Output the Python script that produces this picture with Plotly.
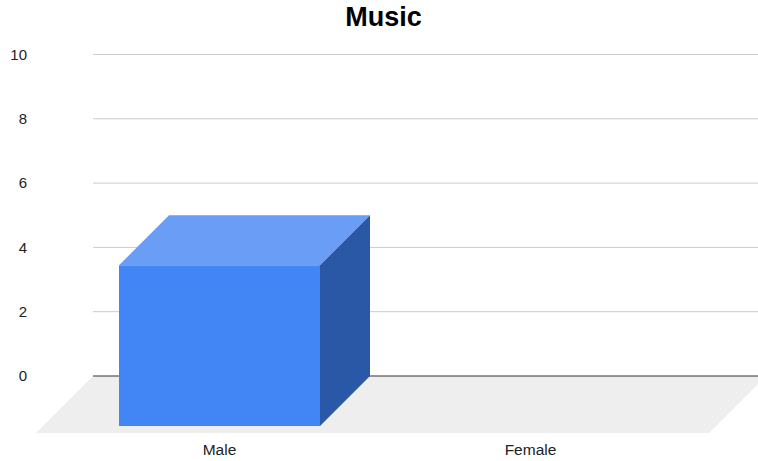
import plotly.graph_objects as go

# ---- data ----
categories = ["Male", "Female"]
values = [5, None]
y_ticks = [0, 2, 4, 6, 8, 10]
title_text = "Music"

# ---- 3D style geometry (category units on x, value units on y) ----
px_per_cat = 311.0
px_per_val = 32.15
bar_w = 201 / px_per_cat
bar_dx = 50 / px_per_cat
bar_dy = 50 / px_per_val
floor_dx = 57 / px_per_cat
floor_dy = 57 / px_per_val
x_min = (36 - 219.5) / px_per_cat
x_max = (758 - 219.5) / px_per_cat
floor_right = (709 - 219.5) / px_per_cat
y_min = -floor_dy
y_max = 336 / px_per_val

FRONT = "#4285F4"
TOP = "#699DF6"
SIDE = "#2B57A7"
FLOOR = "#EEEEEE"
GRID = "#CCCCCC"
ZERO = "#333333"

fig = go.Figure()

# floor
fig.add_trace(go.Scatter(
    x=[x_min, floor_right, floor_right + floor_dx, x_min + floor_dx, x_min],
    y=[y_min, y_min, 0, 0, y_min],
    fill="toself", fillcolor=FLOOR, mode="lines", line=dict(width=0),
    hoverinfo="skip"))

# gridlines on back plane
back_left = x_min + floor_dx
for t in y_ticks:
    fig.add_trace(go.Scatter(
        x=[back_left, x_max], y=[t, t], mode="lines",
        line=dict(color=ZERO if t == 0 else GRID, width=1),
        hoverinfo="skip"))

# 3D bars
for i, (c, v) in enumerate(zip(categories, values)):
    if v is None:
        continue
    x0, x1 = i - bar_w / 2, i + bar_w / 2
    # front
    fig.add_trace(go.Scatter(
        x=[x0, x1, x1, x0, x0], y=[-bar_dy, -bar_dy, v - bar_dy, v - bar_dy, -bar_dy],
        fill="toself", fillcolor=FRONT, mode="lines", line=dict(width=0),
        name=c, hovertemplate=f"{c}: {v}<extra></extra>"))
    # top
    fig.add_trace(go.Scatter(
        x=[x0, x1, x1 + bar_dx, x0 + bar_dx, x0],
        y=[v - bar_dy, v - bar_dy, v, v, v - bar_dy],
        fill="toself", fillcolor=TOP, mode="lines", line=dict(width=0),
        hoverinfo="skip"))
    # side
    fig.add_trace(go.Scatter(
        x=[x1, x1 + bar_dx, x1 + bar_dx, x1, x1],
        y=[-bar_dy, 0, v, v - bar_dy, -bar_dy],
        fill="toself", fillcolor=SIDE, mode="lines", line=dict(width=0),
        hoverinfo="skip"))

fig.update_layout(
    width=758, height=461,
    margin=dict(l=36, r=0, t=40, b=28),
    paper_bgcolor="white", plot_bgcolor="white",
    showlegend=False,
    font=dict(family="Liberation Sans, Arial, sans-serif", size=15, color="#222222"),
    title=dict(text=f"<b>{title_text}</b>", x=383.5 / 758, xanchor="center",
               y=1 - 17 / 461, yanchor="middle", yref="container",
               font=dict(family="Liberation Sans, Arial, sans-serif", size=27, color="#000000")),
    xaxis=dict(range=[x_min, x_max], tickvals=list(range(len(categories))),
               ticktext=categories, showgrid=False, zeroline=False, showline=False,
               ticks="", ticklabelstandoff=5, fixedrange=True,
               tickfont=dict(size=15.5)),
    yaxis=dict(range=[y_min, y_max], tickvals=y_ticks, showgrid=False,
               zeroline=False, showline=False, ticks="", ticklabelstandoff=8,
               fixedrange=True),
)

fig.write_html("out.html")
